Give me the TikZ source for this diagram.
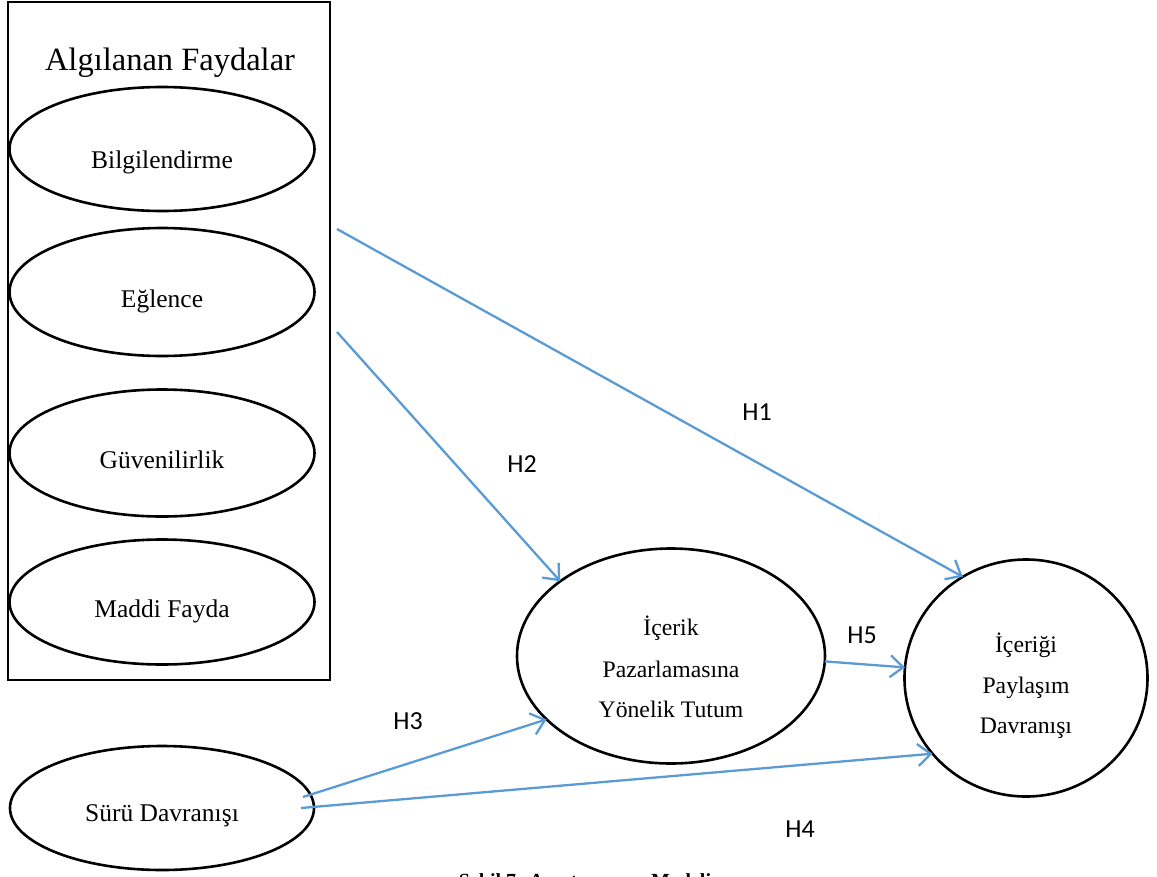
\documentclass[tikz,border=0pt]{standalone}
\usepackage{fontspec}
\setmainfont{Liberation Serif}
\newfontfamily\hfont{Carlito}
\usetikzlibrary{arrows.meta,shapes.geometric}
\definecolor{arrowblue}{HTML}{5B9BD5}
\begin{document}
\begin{tikzpicture}[x=1pt,y=-1pt,
  oval/.style={draw=black,line width=2.6pt,ellipse,inner sep=0pt,outer sep=0pt},
  smalltext/.style={anchor=base,inner sep=0pt,font=\fontsize{25.5}{30}\selectfont},
  midtext/.style={anchor=base,inner sep=0pt,font=\fontsize{23.7}{28}\selectfont},
  hlabel/.style={anchor=base,inner sep=0pt,font=\hfont\fontsize{26}{30}\selectfont},
  hyp/.style={draw=arrowblue,line width=2.3pt,-{Straight Barb[length=13pt,width=22pt,line width=2.3pt]}}]
\useasboundingbox (0,0) rectangle (1157,876);
\clip (0,0) rectangle (1157,876);
% frame
\node[draw=black,line width=2.2pt,minimum width=322pt,minimum height=678pt,inner sep=0pt] (frame) at (169,341) {};
\node[anchor=base,inner sep=0pt,font=\fontsize{32.5}{38}\selectfont] (title) at (170,70) {Algılanan Faydalar};
% left ellipses
\node[oval,minimum width=305pt,minimum height=124pt] (bil) at (162,149) {};
\node[smalltext] (bilt) at (162,168) {Bilgilendirme};
\node[oval,minimum width=305pt,minimum height=128pt] (egl) at (162,292) {};
\node[smalltext] (eglt) at (162,307) {Eğlence};
\node[oval,minimum width=305pt,minimum height=127pt] (guv) at (162,453) {};
\node[smalltext] (guvt) at (162,468) {Güvenilirlik};
\node[oval,minimum width=305pt,minimum height=125pt] (mad) at (162,602) {};
\node[smalltext] (madt) at (162,617) {Maddi Fayda};
\node[oval,minimum width=304pt,minimum height=124pt] (suru) at (162,808) {};
\node[smalltext] (surut) at (162,821) {Sürü Davranışı};
% middle ellipse
\node[oval,minimum width=308pt,minimum height=215pt] (tut) at (671,656) {};
\node[midtext] (tut1) at (671,635) {İçerik};
\node[midtext] (tut2) at (671,677) {Pazarlamasına};
\node[midtext] (tut3) at (671,717) {Yönelik Tutum};
% right circle
\node[oval,minimum width=243pt,minimum height=237pt] (pay) at (1026,678) {};
\node[midtext] (pay1) at (1026,652) {İçeriği};
\node[midtext] (pay2) at (1026,693) {Paylaşım};
\node[midtext] (pay3) at (1026,733) {Davranışı};
% start points
\coordinate (s1) at (337,229);
\coordinate (s2) at (337,332);
\coordinate (s3) at ([xshift=-11pt,yshift=11pt]suru.east);
\coordinate (s4) at ([xshift=-13pt]suru.east);
% arrows
\draw[hyp] (s1) -- (pay.122);
\draw[hyp] (s2) -- (tut.146);
\draw[hyp] (s3) -- (tut.207);
\draw[hyp] (s4) -- (pay.219);
\draw[hyp] (tut.-2) -- (pay.175);
% labels
\node[hlabel] (h1) at (757,420) {H1};
\node[hlabel] (h2) at (522,472) {H2};
\node[hlabel] (h3) at (408,729) {H3};
\node[hlabel] (h4) at (800,837) {H4};
\node[hlabel] (h5) at (862,643) {H5};
% caption (cut off at the bottom, as in the reference)
\node[anchor=base,inner sep=0pt,font=\bfseries\fontsize{20}{24}\selectfont] (cap) at (585,887) {Şekil 7: Araştırmanın Modeli};
\end{tikzpicture}
\end{document}
